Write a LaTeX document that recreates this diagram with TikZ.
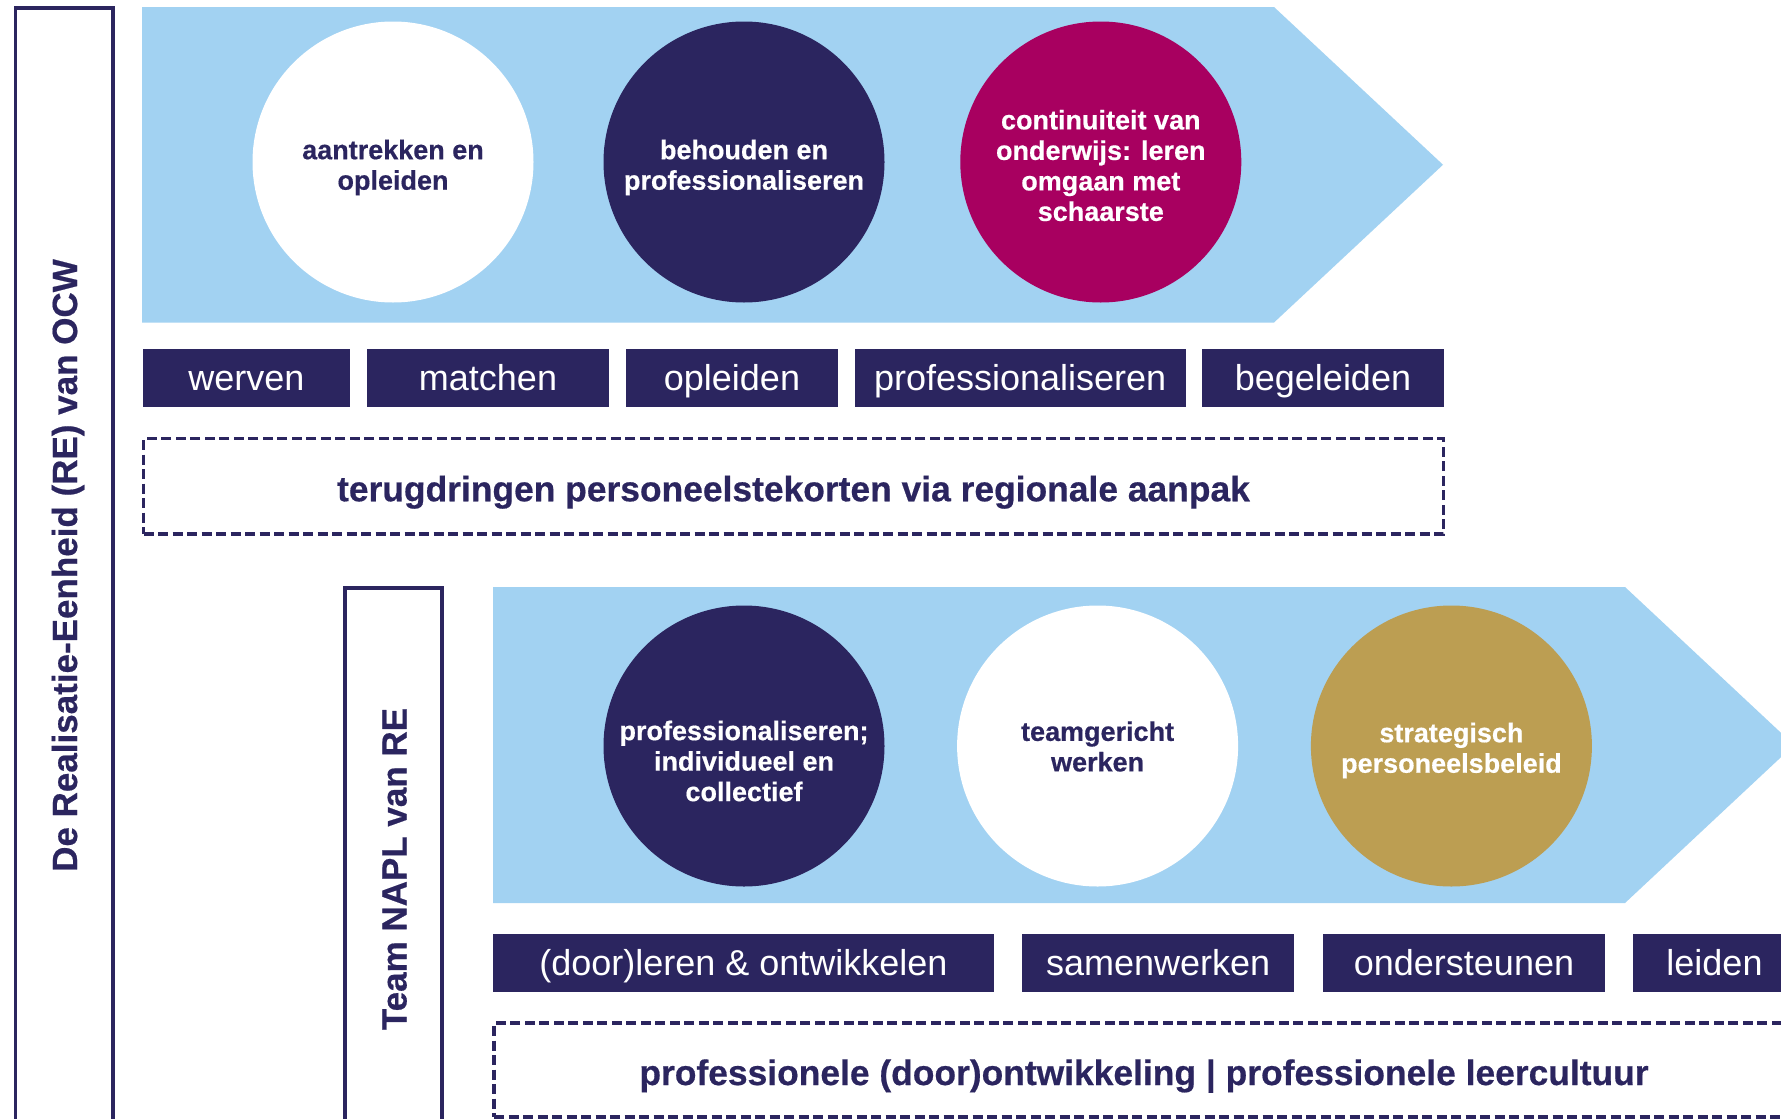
\documentclass[tikz,border=0pt]{standalone}
\usepackage{fontspec}
\setmainfont[BoldFeatures={FakeBold=0.5}]{Liberation Sans}
\definecolor{lblue}{HTML}{A2D2F2}
\definecolor{navy}{HTML}{2B255F}
\definecolor{brandmag}{HTML}{A80060}
\definecolor{brandgold}{HTML}{BC9E52}
\tikzset{
  disc/.style={circle, inner sep=0pt, minimum size=281pt},
  disctext/.style={inner sep=0pt, align=center, font=\fontsize{27}{30.5}\selectfont\bfseries},
  navybox/.style={fill=navy, text=white, inner sep=0pt, minimum height=58pt,
    font=\fontsize{36}{42}\selectfont, text height=25pt, text depth=0pt},
  dashbox/.style={draw=navy, line width=3.3pt, dash pattern=on 10pt off 4.5pt,
    inner sep=0pt, text=navy, font=\fontsize{35.4}{42}\selectfont\bfseries,
    text height=30pt, text depth=0pt},
  unitframe/.style={draw=navy, line width=3.5pt},
  vlabel/.style={rotate=90, anchor=base, inner sep=0pt, text=navy,
    font=\fontsize{35}{40}\selectfont\bfseries},
}
\begin{document}
\begin{tikzpicture}[x=1pt, y=-1pt]
\useasboundingbox (0,0) rectangle (1781,1119);
\clip (0,0) rectangle (1781,1119);
\fill[white] (0,0) rectangle (1781,1119);

% left frames
\draw[unitframe] (15.5,1140) -- (15.5,8) -- (113,8) -- (113,1140);
\node[vlabel] (reLabel) at (77,565.5) {De Realisatie-Eenheid (RE) van OCW};
\draw[unitframe] (345,1140) -- (345,588) -- (442,588) -- (442,1140);
\node[vlabel] (naplLabel) at (406.5,869) {Team NAPL van RE};

% bands
\fill[lblue] (142,7) -- (1274,7) -- (1443,164.75) -- (1274,322.5) -- (142,322.5) -- cycle;
\fill[lblue] (493,587) -- (1625,587) -- (1794,745) -- (1625,903) -- (493,903) -- cycle;

% top circles
\node[disc, fill=white] (c1) at (393,162) {};
\node[disctext, text=navy] (c1t) at (393,167.5) {aantrekken en\\opleiden};
\node[disc, fill=navy] (c2) at (744,162) {};
\node[disctext, text=white] (c2t) at (744,167.5) {behouden en\\professionaliseren};
\node[disc, fill=brandmag] (c3) at (1100.8,162) {};
\node[disctext, text=white] (c3t) at (1100.8,165.5) {continuiteit van\\onderwijs: leren\\omgaan met\\schaarste};

% bottom circles
\node[disc, fill=navy] (d1) at (744,746) {};
\node[disctext, text=white] (d1t) at (744,761) {professionaliseren;\\individueel en\\collectief};
\node[disc, fill=white] (d2) at (1097.6,746) {};
\node[disctext, text=navy] (d2t) at (1097.6,746.5) {teamgericht\\werken};
\node[disc, fill=brandgold] (d3) at (1451.4,746) {};
\node[disctext, text=white] (d3t) at (1451.4,750.5) {strategisch\\personeelsbeleid};

% top row of boxes
\node[navybox, minimum width=207.3pt] (w1) at (246.3,378) {werven};
\node[navybox, minimum width=242.6pt] (w2) at (488,378) {matchen};
\node[navybox, minimum width=212pt] (w3) at (732,378) {opleiden};
\node[navybox, minimum width=331pt] (w4) at (1020.2,378) {professionaliseren};
\node[navybox, minimum width=242pt] (w5) at (1323,378) {begeleiden};

% bottom row of boxes
\node[navybox, minimum width=501pt] (b1) at (743.5,963) {(door)leren \& ontwikkelen};
\node[navybox, minimum width=272.5pt] (b2) at (1158.2,963) {samenwerken};
\node[navybox, minimum width=282pt] (b3) at (1464,963) {ondersteunen};
\node[navybox, minimum width=163pt] (b4) at (1714.5,963) {leiden};

% dashed boxes
\node[dashbox, minimum width=1300pt, minimum height=95.5pt] (t1) at (793.5,486.25)
  {terugdringen personeelstekorten via regionale aanpak};
\node[dashbox, minimum width=1300pt, minimum height=94pt] (t2) at (1144,1070)
  {professionele (door)ontwikkeling | professionele leercultuur};
\end{tikzpicture}
\end{document}
